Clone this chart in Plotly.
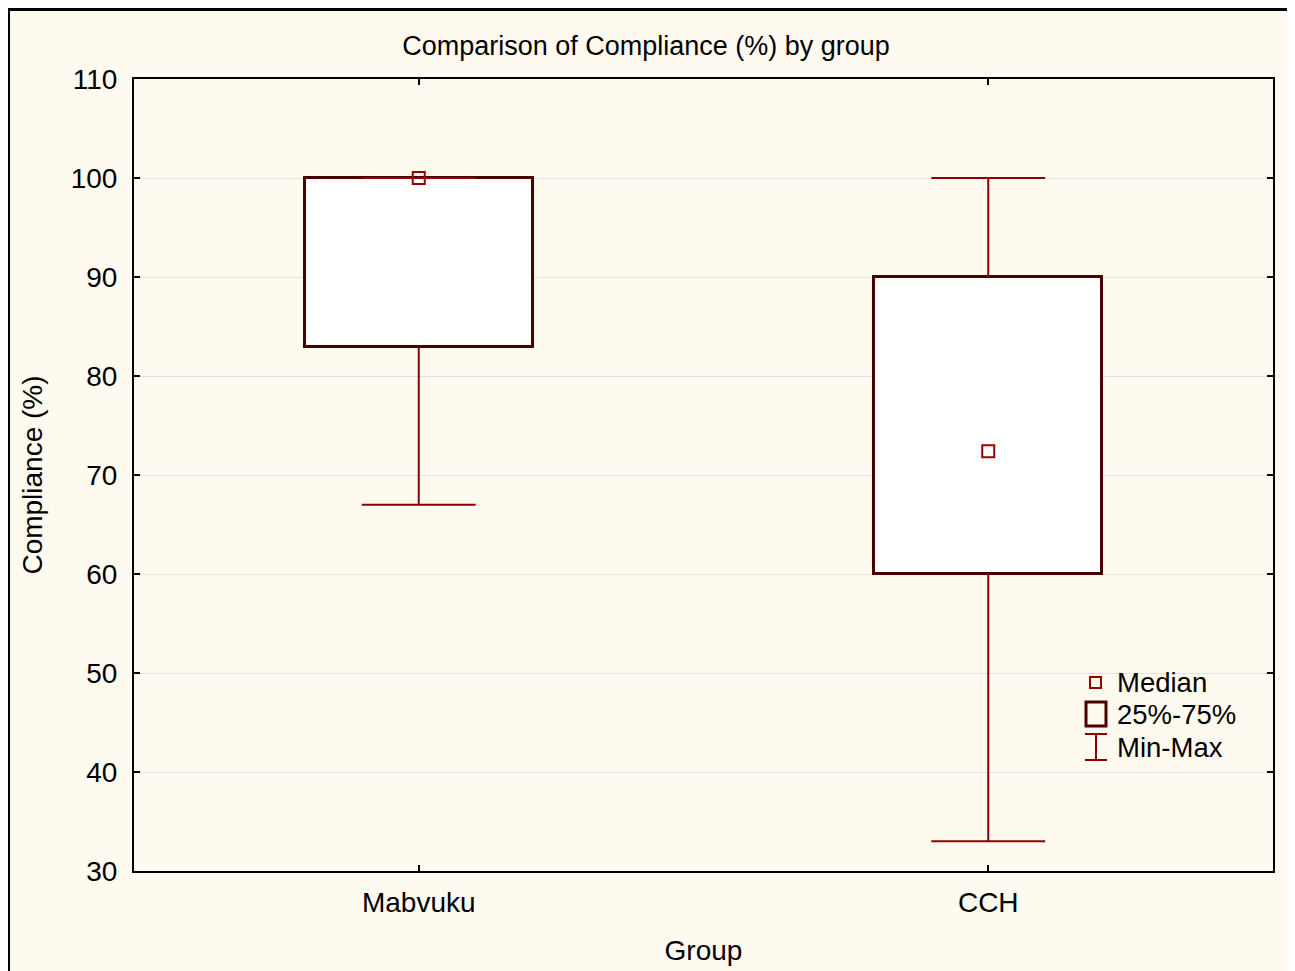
import plotly.graph_objects as go

groups = ["Mabvuku", "CCH"]
medians = [100, 72.4]
q1 = [82.9, 60]
q3 = [100, 90]
mins = [67, 33]
maxs = [100, 100]
positions = [0, 1]

BOX_W = 0.4
CAP_W = 0.2
BOX_LINE = "#4a0000"
WHISK = "#8e0000"
MED = "#990000"
CREAM = "#FFFAEF"
FONT = "Liberation Sans, Arial, sans-serif"

OFF = 8  # page body margin
W, H = 1295 - OFF, 971 - OFF
# plot area in page coords: x 134..1273, y 79..871
L, R, T, B = 134 - OFF, 1295 - 1273, 79 - OFF, 971 - 871
PW, PH = W - L - R, H - T - B


def px(xp):
    return (xp - OFF - L) / PW


def py(yp):
    return (H - B - (yp - OFF)) / PH


fig = go.Figure()

# boxes (25%-75%)
fig.add_trace(go.Bar(
    x=positions, base=q1, y=[b - a for a, b in zip(q1, q3)], width=BOX_W,
    marker=dict(color="white", line=dict(color=BOX_LINE, width=3)),
    showlegend=False, hoverinfo="skip"))

# whiskers
wx, wy = [], []
for p, lo, a, b, hi in zip(positions, mins, q1, q3, maxs):
    wx += [p, p, None]
    wy += [lo, a, None]
    if hi > b:
        wx += [p, p, None]
        wy += [b, hi, None]
    wx += [p - CAP_W / 2, p + CAP_W / 2, None, p - CAP_W / 2, p + CAP_W / 2, None]
    wy += [lo, lo, None, hi, hi, None]
fig.add_trace(go.Scatter(x=wx, y=wy, mode="lines", line=dict(color=WHISK, width=2),
                         showlegend=False, hoverinfo="skip"))

# medians
fig.add_trace(go.Scatter(x=positions, y=medians, mode="markers",
                         marker=dict(symbol="square-open", size=12, color=MED,
                                     line=dict(width=2, color=MED)),
                         showlegend=False))

shapes = []
# outer frame
shapes.append(dict(type="rect", xref="paper", yref="paper", layer="below",
                   x0=px(8.5), x1=px(1290.5), y0=py(1000), y1=py(9.5),
                   fillcolor=CREAM, line=dict(color="black", width=3)))
# legend symbols
shapes.append(dict(type="rect", xref="paper", yref="paper",
                   x0=px(1090), x1=px(1101), y0=py(688), y1=py(677),
                   line=dict(color=MED, width=2), fillcolor="rgba(0,0,0,0)"))
shapes.append(dict(type="rect", xref="paper", yref="paper",
                   x0=px(1086), x1=px(1106), y0=py(726), y1=py(702),
                   line=dict(color=BOX_LINE, width=3), fillcolor=CREAM))
shapes.append(dict(type="line", xref="paper", yref="paper",
                   x0=px(1096), x1=px(1096), y0=py(760), y1=py(734),
                   line=dict(color=WHISK, width=2)))
shapes.append(dict(type="line", xref="paper", yref="paper",
                   x0=px(1085), x1=px(1107), y0=py(734), y1=py(734),
                   line=dict(color=WHISK, width=2)))
shapes.append(dict(type="line", xref="paper", yref="paper",
                   x0=px(1085), x1=px(1107), y0=py(760), y1=py(760),
                   line=dict(color=WHISK, width=2)))

legend_labels = ["Median", "25%-75%", "Min-Max"]
legend_y = [682, 714, 747]
annotations = [dict(text=t, xref="paper", yref="paper", x=px(1115), y=py(yy),
                    xanchor="left", yanchor="middle", showarrow=False,
                    font=dict(size=27.5, color="black", family=FONT))
               for t, yy in zip(legend_labels, legend_y)]

fig.update_layout(
    width=W, height=H,
    margin=dict(l=L, r=R, t=T, b=B, autoexpand=False),
    paper_bgcolor="white", plot_bgcolor="white",
    font=dict(family=FONT, size=28, color="black"),
    title=dict(text="Comparison of Compliance (%) by group", x=(646 - OFF) / W,
               xanchor="center", y=1 - (46 - OFF) / H, yanchor="middle",
               font=dict(size=27)),
    shapes=shapes, annotations=annotations,
    bargap=0, showlegend=False,
)
fig.update_xaxes(range=[-0.5, 1.5], tickvals=positions, ticktext=groups,
                 showgrid=False, zeroline=False, showline=True, linecolor="black",
                 linewidth=2, mirror="ticks", ticks="inside", ticklen=6, tickwidth=2,
                 tickcolor="black", tickfont=dict(size=28), ticklabelstandoff=5,
                 automargin=False,
                 title=dict(text="Group", standoff=24, font=dict(size=28)))
fig.update_yaxes(range=[30, 110], dtick=10, showgrid=True, gridcolor="#e2e2e2",
                 gridwidth=1, zeroline=False, showline=True, linecolor="black",
                 linewidth=2, mirror="ticks", ticks="inside", ticklen=6, tickwidth=2,
                 tickcolor="black", tickfont=dict(size=28), ticklabelstandoff=9,
                 automargin=False,
                 title=dict(text="Compliance (%)", standoff=20, font=dict(size=28)))

fig.write_html("out.html")
